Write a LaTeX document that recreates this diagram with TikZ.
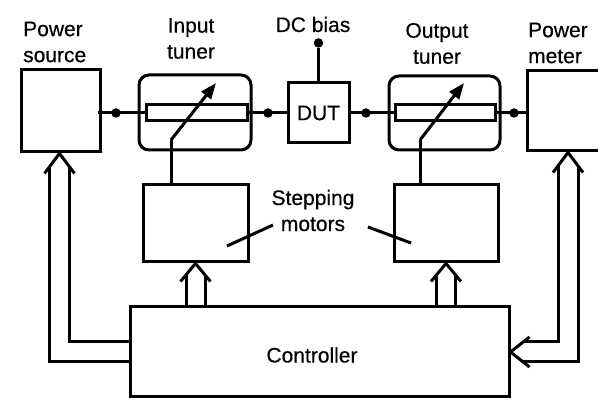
\documentclass[tikz,border=0pt]{standalone}
\usepackage{fontspec}
\newfontfamily\lblfont[FakeBold=0.35]{Liberation Sans}
\usetikzlibrary{arrows.meta,calc}
\begin{document}
\begin{tikzpicture}[x=1pt,y=-1pt,
  every node/.style={font=\lblfont\fontsize{21}{26}\selectfont},
  box/.style={draw,line width=3pt,inner sep=0pt,minimum width=#1},
  lbl/.style={inner sep=0pt,align=center},
  wire/.style={line width=3pt},
  dot/.style={circle,fill=black,inner sep=0pt,minimum size=9.5pt},
  tunerarrow/.style={line width=3pt,-{Triangle[length=16pt,width=12pt]}},
  fat/.style={line width=3pt}]
\useasboundingbox (0,0) rectangle (598,398);
\fill[white] (0,0) rectangle (598,398);
% boxes
\node[box=79pt,minimum height=82pt] (ps) at (60.5,111) {};
\node[box=112pt,minimum height=75pt,rounded corners=10pt] (it) at (195,112.5) {};
\node[box=101pt,minimum height=16pt] (itr) at (196.5,113) {};
\node[box=61pt,minimum height=60pt] (dut) at (318.5,113) {DUT};
\node[box=111pt,minimum height=74pt,rounded corners=10pt] (ot) at (444.5,113) {};
\node[box=100pt,minimum height=16pt] (otr) at (445,113) {};
\node[box=82pt,minimum height=80pt] (pm) at (568,111) {};
\node[box=105pt,minimum height=77pt] (m1) at (195.5,223.5) {};
\node[box=104pt,minimum height=77pt] (m2) at (446,223.5) {};
\node[box=379pt,minimum height=90pt] (ctrl) at (319.5,352) {};
% labels
\node[lbl,align=left,anchor=west] (lps) at (23,42) {Power\\source};
\node[lbl] (lit) at (191,38.5) {Input\\tuner};
\node[lbl,anchor=base] (ldc) at (313,32) {DC bias};
\node[lbl] (lot) at (437,43.5) {Output\\tuner};
\node[lbl,align=left,anchor=west] (lpm) at (528,43) {Power\\meter};
\node[lbl] (lsm) at (313,210.5) {Stepping\\motors};
\node[lbl] (lctrl) at (312,355) {Controller};
% main signal line
\draw[wire] ($(ps.east)+(-4,2)$) -- (itr.west);
\draw[wire] (itr.east) -- (dut.west);
\draw[wire] (dut.east) -- (otr.west);
\draw[wire] (otr.east) -- ($(pm.west)+(0,2)$);
\node[dot] (d1) at (116,113) {};
\node[dot] (d2) at (268,113) {};
\node[dot] (d3) at (366,113) {};
\node[dot] (d4) at (514,113) {};
% DC bias
\node[dot] (d5) at (318.5,43) {};
\draw[wire] (d5) -- (dut.north);
% tuner arrows
\coordinate (b1) at (171,140);
\coordinate (t1) at (216,83);
\coordinate (b2) at (420,140);
\coordinate (t2) at (464,83);
\draw[wire] (m1.north -| b1) -- (b1);
\draw[tunerarrow] (b1) -- (t1);
\draw[wire] (m2.north -| b2) -- (b2);
\draw[tunerarrow] (b2) -- (t2);
% stepping motor leaders
\coordinate (s1) at (227,246);
\coordinate (s2) at (411,243);
\draw[wire] (273,225) -- (s1);
\draw[wire] (368,227) -- (s2);
% fat arrows controller -> motors
\foreach \m in {m1,m2}{
  \draw[fat] ($(\m.south)+(-15,18)$) -- (\m.south) -- ($(\m.south)+(15,18)$);
  \draw[fat] ($(\m.south)+(-9.5,11.4)$) -- ($(ctrl.north -| \m.south)+(-9.5,0)$);
  \draw[fat] ($(\m.south)+(9.5,11.4)$) -- ($(ctrl.north -| \m.south)+(9.5,0)$);
}
% controller -> power source
\coordinate (pst) at ($(ps.south)+(-1,0)$);
\draw[fat] ($(pst)+(-15,20)$) -- (pst) -- ($(pst)+(15,20)$);
\draw[fat] ($(pst)+(-10,13.3)$) |- ($(ctrl.west)+(0,10)$);
\draw[fat] ($(pst)+(10,13.3)$) |- ($(ctrl.west)+(0,-10)$);
% power meter -> controller
\draw[fat] ($(pm.south)+(-15,20)$) -- (pm.south) -- ($(pm.south)+(15,20)$);
\draw[fat] ($(ctrl.east)+(19,-15)$) -- (ctrl.east) -- ($(ctrl.east)+(19,15)$);
\draw[fat] ($(pm.south)+(-10,13.3)$) |- ($(ctrl.east)+(12.7,-10)$);
\draw[fat] ($(pm.south)+(10,13.3)$) |- ($(ctrl.east)+(12.7,10)$);
\end{tikzpicture}
\end{document}
